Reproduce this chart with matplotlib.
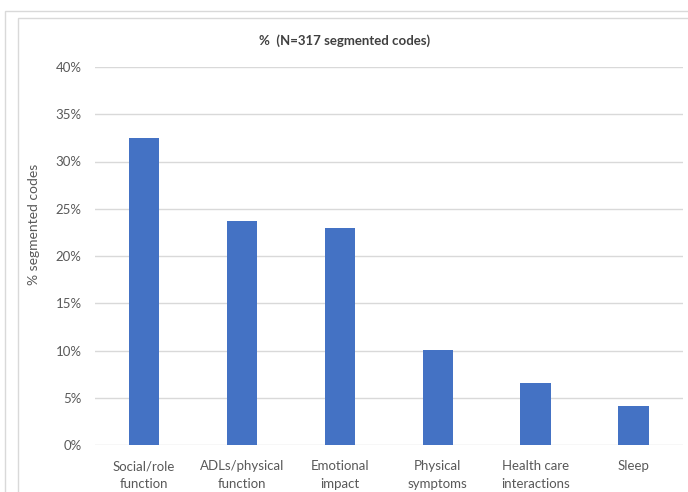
import matplotlib.pyplot as plt
from matplotlib.patches import Rectangle

categories = ['Social/role\nfunction', 'ADLs/physical\nfunction', 'Emotional\nimpact',
              'Physical\nsymptoms', 'Health care\ninteractions', 'Sleep']
values = [0.325, 0.237, 0.230, 0.101, 0.066, 0.041]
yticks = [0, 0.05, 0.10, 0.15, 0.20, 0.25, 0.30, 0.35, 0.40]

plt.rcParams['font.family'] = ['Lato', 'DejaVu Sans']

W, H = 688, 492
fig = plt.figure(figsize=(W / 100, H / 100), dpi=100)

# outer chart frames (cut off at right and bottom like the screenshot)
for x0, y0 in [(4.5, 10.5), (17.5, 17.5)]:
    fig.add_artist(Rectangle((x0 / W, 1 - 600 / H), 900 / W, (600 - y0) / H,
                             transform=fig.transFigure, fill=False,
                             edgecolor='#d9d9d9', linewidth=1))

ax = fig.add_axes([95 / W, 1 - 445 / H, (682.5 - 95) / W, (445 - 67) / H])
x = range(len(categories))
ax.bar(x, values, width=0.31, color='#4472C4', zorder=3)

ax.set_xlim(-0.5, len(categories) - 0.5)
ax.set_ylim(0, 0.40)
ax.set_yticks(yticks)
ax.set_yticklabels([f'{int(round(v * 100))}%' for v in yticks])
ax.set_xticks(list(x))
ax.set_xticklabels(categories, linespacing=1.6)
ax.tick_params(axis='both', length=0, colors='#595959', labelsize=9.5)
ax.tick_params(axis='y', pad=9.5)
ax.tick_params(axis='x', pad=11)
ax.yaxis.grid(True, color='#d9d9d9', linewidth=1, zorder=0)
for s in ax.spines.values():
    s.set_visible(False)

ax.set_ylabel('% segmented codes', color='#595959', fontsize=10)
# axis title sits a bit above the middle, as in the original
ax.yaxis.set_label_coords((40 - 95) / (682.5 - 95), (445 - 224) / (445 - 67))
fig.text(345 / W, 1 - 41 / H, '%  (N=317 segmented codes)', ha='center', va='center',
         fontsize=9.5, fontweight='bold', color='#404040')

fig.savefig('out.png', dpi=100)
